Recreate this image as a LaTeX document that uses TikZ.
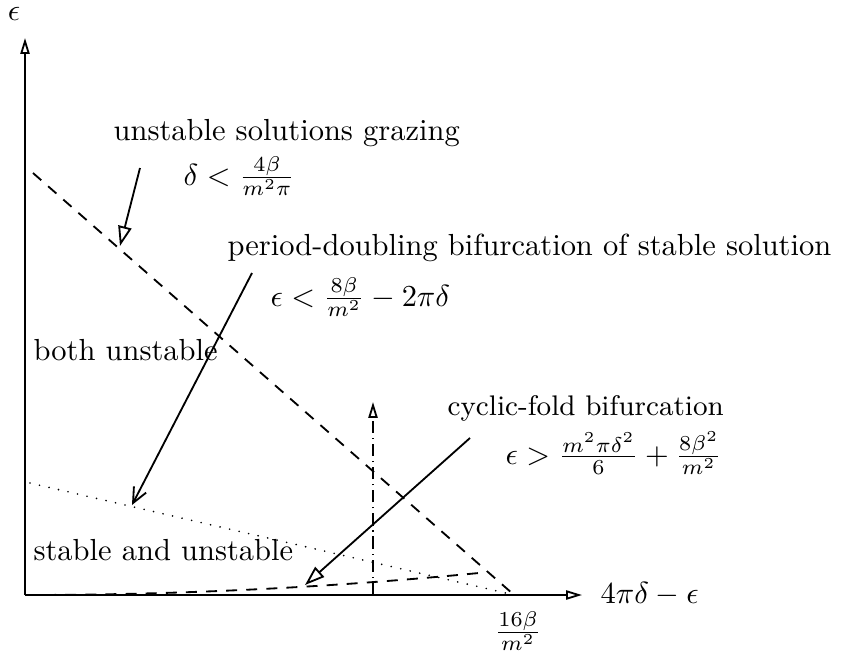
\documentclass[tikz,border=0pt]{standalone}
\usepackage{amsmath}
\usetikzlibrary{arrows.meta}
\tikzset{
    curve/.style={line width=0.6pt},
    axis/.style={curve, -{Triangle[open, length=5.2pt, width=3pt]}},
    pointer/.style={curve, -{Triangle[open, length=6.5pt, width=4.4pt]}},
    stick/.style={curve, -{Straight Barb[length=5pt, width=4.5pt]}},
    graze/.style={curve, dash pattern=on 3.6pt off 3pt},
    fold/.style={curve, dash pattern=on 3.6pt off 3pt},
    pd/.style={curve, line cap=round, dash pattern=on 0pt off 3.2pt},
    limit/.style={curve, dash pattern=on 4pt off 1.6pt on 0.4pt off 1.6pt},
    txt/.style={inner sep=0pt},
    common settings/.style={x=0.328pt, y=-0.328pt}
}
\begin{document}
\begin{tikzpicture}[common settings]
    \useasboundingbox (0,0) rectangle (850,652);

    % 1. Axes
    \coordinate (O) at (25,595);
    \coordinate (ytop) at (25,38);
    \coordinate (xend) at (582,595);
    \draw[axis] (O) -- (ytop);
    \draw[axis] (O) -- (xend);
    \node[txt, anchor=base] (ylab) at (14,20) {$\epsilon$};
    \node[txt, anchor=base west] (xlab) at (600,603) {$4\pi\delta - \epsilon$};
    \node[txt] (tick) at (518,631) {$\frac{16\beta}{m^2}$};

    % 2. Boundaries
    \coordinate (grazeA) at (33,173);
    \coordinate (grazeB) at (513,594);
    \draw[graze] (grazeA) -- (grazeB);

    \coordinate (pdA) at (30,483);
    \coordinate (pdB) at (510,594);
    \draw[pd] (pdA) -- (pdB);

    % cyclic-fold parabola
    \draw[fold] plot[domain=0:458, samples=40] ({25+\x}, {595-1.19e-4*\x*\x});

    % vertical dash-dot line
    \coordinate (limA) at (373,595);
    \coordinate (limB) at (373,402);
    \draw[limit, -{Triangle[open, length=5.2pt, width=3pt]}] (limA) -- (limB);

    % 3. Region labels
    \node[txt, anchor=base west] (both) at (33,360) {both unstable};
    \node[txt, anchor=base west] (sau) at (33,560) {stable and unstable};

    % 4. Annotations with pointers
    \node[txt, anchor=base west] (grazeT) at (113,140) {unstable solutions grazing};
    \node[txt, anchor=base west] (grazeC) at (183,185) {$\delta < \frac{4\beta}{m^2\pi}$};
    \coordinate (grazeS) at (140,168);
    \coordinate (grazeE) at (120,246);
    \draw[pointer] (grazeS) -- (grazeE);

    \node[txt, anchor=base west] (pdT) at (227,255) {period-doubling bifurcation of stable solution};
    \node[txt, anchor=base west] (pdC) at (270,306) {$\epsilon < \frac{8\beta}{m^2} - 2\pi\delta$};
    \coordinate (pdS) at (252,273);
    \coordinate (pdE) at (132,505);
    \draw[stick] (pdS) -- (pdE);

    \node[txt, anchor=base west, font=\fontsize{9.3pt}{11pt}\selectfont] (cfT) at (447,415) {cyclic-fold bifurcation};
    \node[txt, anchor=base west] (cfC) at (505,464) {$\epsilon > \frac{m^2\pi\delta^2}{6} + \frac{8\beta^2}{m^2}$};
    \coordinate (cfS) at (470,438);
    \coordinate (cfE) at (305,585);
    \draw[pointer] (cfS) -- (cfE);

\end{tikzpicture}
\end{document}
